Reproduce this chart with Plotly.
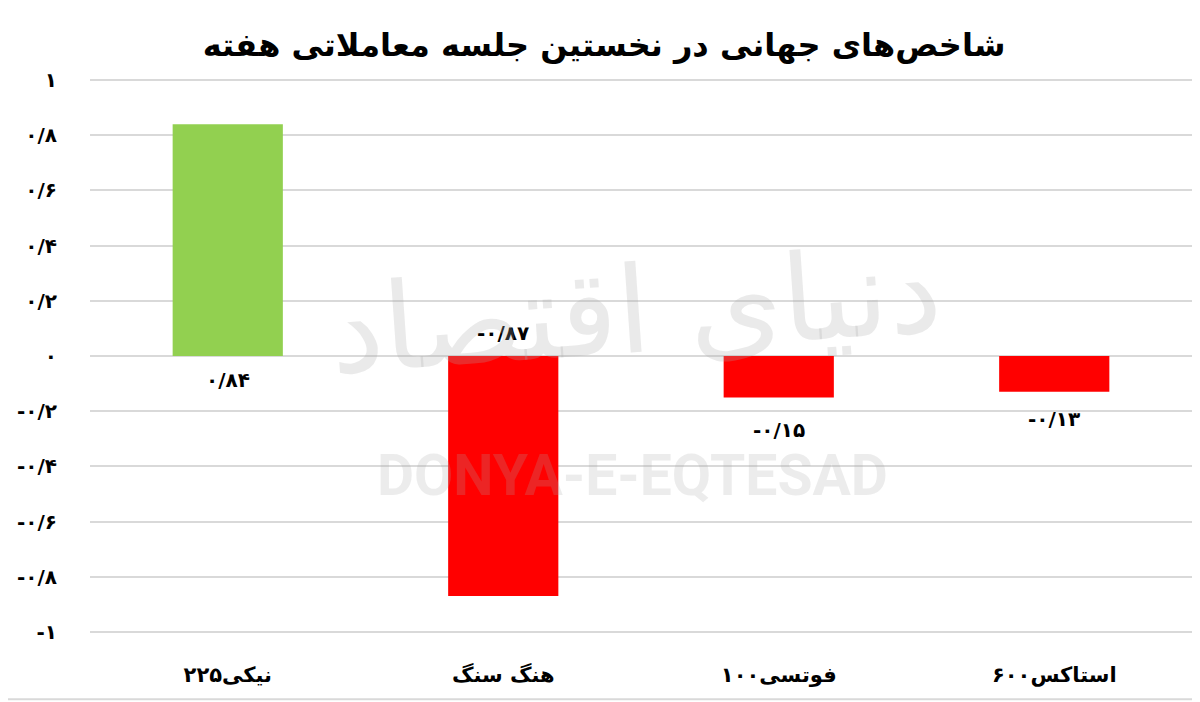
import plotly.graph_objects as go

categories = ["نیکی۲۲۵", "هنگ سنگ", "فوتسی۱۰۰", "استاکس۶۰۰"]
values = [0.84, -0.87, -0.15, -0.13]
value_labels = ["۰/۸۴", "-۰/۸۷", "-۰/۱۵", "-۰/۱۳"]
bar_colors = ["#92d050", "#ff0000", "#ff0000", "#ff0000"]
ytick_vals = [1, 0.8, 0.6, 0.4, 0.2, 0, -0.2, -0.4, -0.6, -0.8, -1]
ytick_text = ["۱", "۰/۸", "۰/۶", "۰/۴", "۰/۲", "۰", "-۰/۲", "-۰/۴", "-۰/۶", "-۰/۸", "-۱"]
title_text = "شاخص‌های جهانی در نخستین جلسه معاملاتی هفته"

FONT = "DejaVu Sans"

fig = go.Figure()
fig.add_trace(go.Bar(
    x=categories, y=values,
    marker=dict(color=bar_colors, line=dict(width=0)),
    hoverinfo="skip",
))

# data labels (placement mimics the original)
label_anchor = [0, 0, values[2], values[3]]
label_shift = [-24, 23, -33, -27]
for c, a, s, t in zip(categories, label_anchor, label_shift, value_labels):
    fig.add_annotation(x=c, y=a, yshift=s, text=t, showarrow=False,
                       yanchor="middle",
                       font=dict(family=FONT, size=20, color="#000000", weight="bold"))

# watermark
fig.add_annotation(x=0.4946, y=0.583, xref="paper", yref="paper", text="دنیای اقتصاد",
                   showarrow=False, textangle=-4, xanchor="center", yanchor="middle",
                   font=dict(family=FONT, size=120, color="rgba(170,170,170,0.25)"))
fig.add_annotation(x=0.4927, y=0.284, xref="paper", yref="paper", text="DONYA-E-EQTESAD",
                   showarrow=False, xanchor="center", yanchor="middle",
                   font=dict(family="Liberation Sans Narrow, Roboto", size=57,
                             color="rgba(170,170,170,0.22)", weight="bold"))

# bottom border line
fig.add_shape(type="line", xref="paper", yref="paper", x0=-0.075, x1=1.003,
              y0=-0.1196, y1=-0.1196, line=dict(color="#d9d9d9", width=2))

fig.update_layout(
    width=1192, height=694,
    paper_bgcolor="white", plot_bgcolor="white",
    margin=dict(l=82, r=8, t=71, b=69),
    bargap=0.6,
    showlegend=False,
    title=dict(text=title_text, x=0.5, xanchor="center", y=0.947, yanchor="middle",
               font=dict(family=FONT, size=32, color="#000000", weight="bold")),
    xaxis=dict(showgrid=False, showline=False, ticks="", zeroline=False,
               tickfont=dict(family=FONT, size=21, color="#000000", weight="bold"),
               ticklabelstandoff=27),
    yaxis=dict(range=[-1.004, 1.004], tickvals=ytick_vals, ticktext=ytick_text,
               showgrid=True, gridcolor="#d9d9d9", gridwidth=1.5,
               zeroline=True, zerolinecolor="#d9d9d9", zerolinewidth=1.5,
               showline=False, ticks="",
               tickfont=dict(family=FONT, size=20, color="#000000", weight="bold"),
               ticklabelstandoff=32),
)

fig.write_html("out.html")
